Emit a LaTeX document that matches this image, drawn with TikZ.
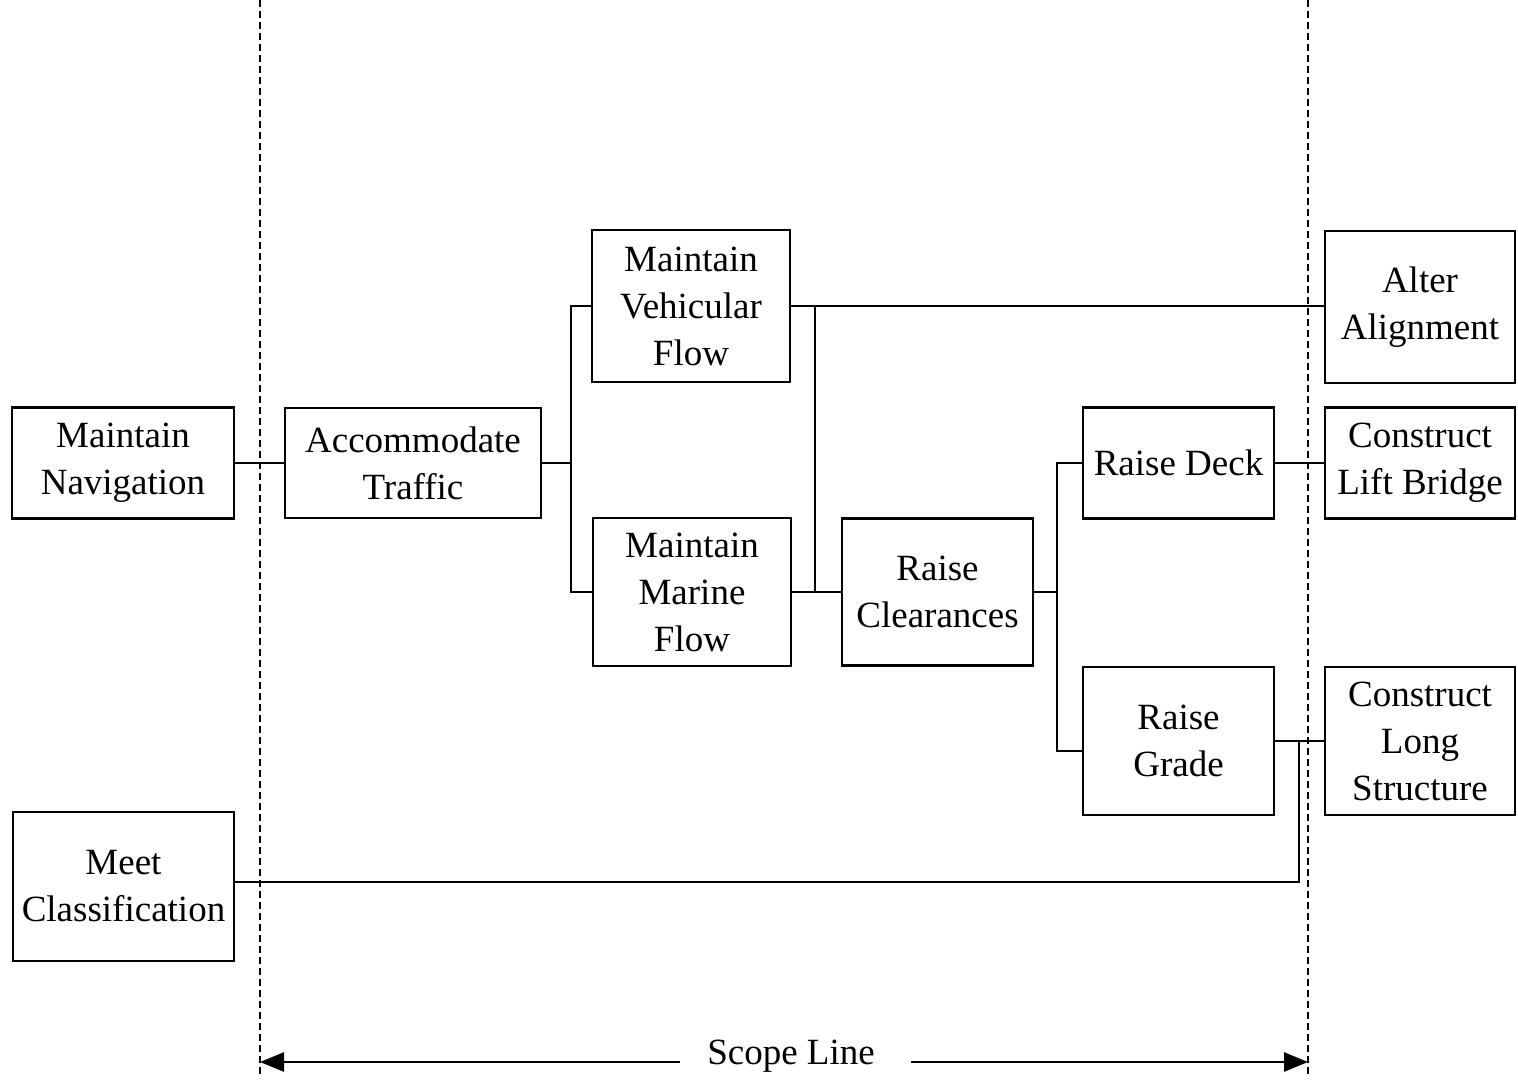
\documentclass[tikz,border=0pt]{standalone}
\usepackage{fontspec}
\setmainfont{Liberation Serif}
\usetikzlibrary{arrows.meta,calc}
\begin{document}
\begin{tikzpicture}[x=1pt,y=-1pt,
  box/.style={draw,line width=2.8pt,rectangle,inner sep=0pt,align=center,
    font=\fontsize{37}{47}\selectfont},
  conn/.style={line width=2.6pt},
  scopeline/.style={line width=2pt,dash pattern=on 7pt off 4pt},
  scopearrow/.style={line width=2.6pt,-{Triangle[length=24pt,width=19pt]}}]
\useasboundingbox (0,0) rectangle (1518,1081);
% boxes
\node[box,minimum width=222pt,minimum height=111pt] (nav) at (123,463) {Maintain\\Navigation};
\node[box,minimum width=256pt,minimum height=110pt] (acc) at (413,463) {Accommodate\\Traffic};
\node[box,minimum width=198pt,minimum height=152pt] (veh) at (691,306) {Maintain\\Vehicular\\Flow};
\node[box,minimum width=198pt,minimum height=148pt] (mar) at (692,592) {Maintain\\Marine\\Flow};
\node[box,minimum width=191pt,minimum height=147pt] (rc) at (937.5,592) {Raise\\Clearances};
\node[box,minimum width=191pt,minimum height=111pt] (rd) at (1178.5,463) {Raise Deck};
\node[box,minimum width=191pt,minimum height=148pt] (rg) at (1178.5,741) {Raise\\Grade};
\node[box,minimum width=190pt,minimum height=152pt] (alt) at (1420,307) {Alter\\Alignment};
\node[box,minimum width=190pt,minimum height=111pt] (lift) at (1420,463) {Construct\\Lift Bridge};
\node[box,minimum width=190pt,minimum height=148pt] (long) at (1420,741) {Construct\\Long\\Structure};
\node[box,minimum width=221pt,minimum height=149pt] (meet) at (123.5,886.5) {Meet\\Classification};
% junctions
\coordinate (j1) at (571,463);
\coordinate (j2) at (815,306);
\coordinate (j3) at (1057,592);
\coordinate (j3b) at (1057,751);
\coordinate (m1) at (1299,882);
\coordinate (m2) at (1299,741);
% connectors
\draw[conn] (nav.east) -- (acc.west);
\draw[conn] (acc.east) -- (j1);
\draw[conn] (veh.west) -| (j1) |- (mar.west);
\draw[conn] (veh.east) -- (veh.east -| alt.west);
\draw[conn] (j2) -- (j2 |- mar.east);
\draw[conn] (mar.east) -- (rc.west);
\draw[conn] (rc.east) -- (j3);
\draw[conn] (rd.west) -| (j3b) -- (j3b -| rg.west);
\draw[conn] (rd.east) -- (rd.east -| lift.west);
\draw[conn] (rg.east) -- (long.west);
\draw[conn] (meet.east |- m1) -- (m1) -- (m2);
% scope lines
\coordinate (d1t) at (260,0);
\coordinate (d1b) at (260,1078);
\coordinate (d2t) at (1308,0);
\coordinate (d2b) at (1308,1078);
\draw[scopeline] (d1t) -- (d1b);
\draw[scopeline] (d2t) -- (d2b);
\node[font=\fontsize{37}{47}\selectfont,inner sep=0pt] (scope) at (791,1056) {Scope Line};
\coordinate (sl) at (680,1062);
\coordinate (sa) at (260,1062);
\coordinate (sr) at (911,1062);
\coordinate (sb) at (1308,1062);
\draw[scopearrow] (sl) -- (sa);
\draw[scopearrow] (sr) -- (sb);
\end{tikzpicture}
\end{document}
